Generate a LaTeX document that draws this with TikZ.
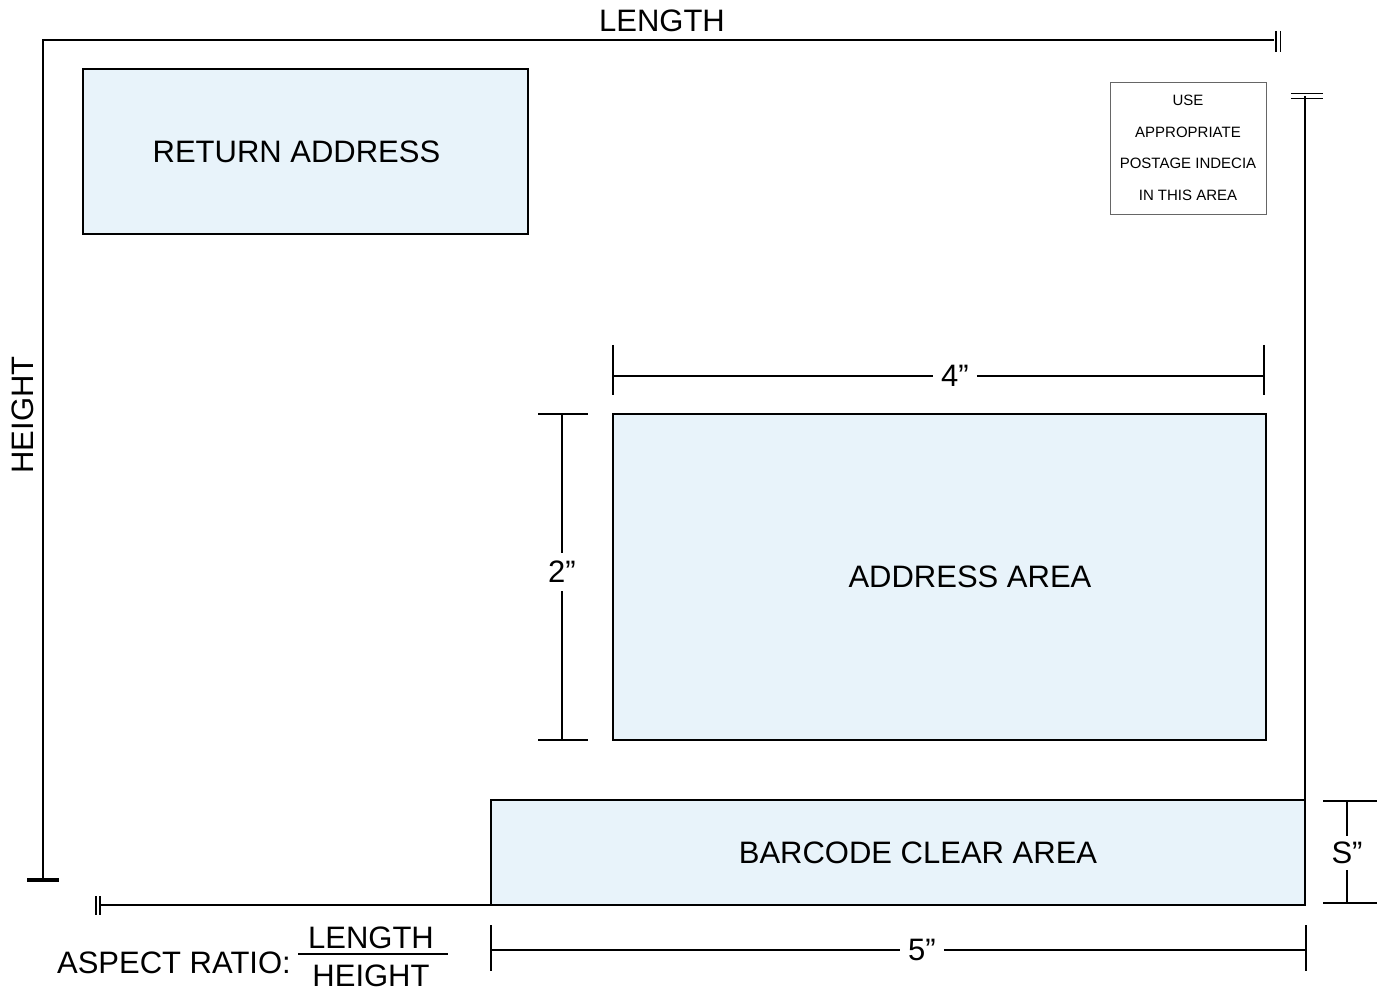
\documentclass[tikz,border=0pt]{standalone}
\usepackage{fontspec}
\setmainfont{Liberation Sans}
\usetikzlibrary{positioning,calc}
\definecolor{areablue}{HTML}{E8F3FA}
\tikzstyle{area} = [draw=black, fill=areablue, line width=1.6pt,
    inner sep=0pt, font=\fontsize{31}{34}\selectfont]
\tikzstyle{lbl} = [inner sep=0pt, font=\fontsize{31}{34}\selectfont]
\tikzstyle{dimtext} = [inner sep=8pt, font=\fontsize{31}{34}\selectfont]
\tikzset{frame/.style={line width=1.8pt}, dimline/.style={line width=1.6pt}}

\begin{document}
\begin{tikzpicture}[x=1pt,y=-1pt]
\useasboundingbox (0,0) rectangle (1377,992);
    %areas
    \node[area, minimum width=445, minimum height=165] (ret) at (305.5,151.5) {RETURN ADDRESS\hspace*{18pt}};
    \node[area, minimum width=653, minimum height=326] (addr) at (939.5,577) {\hspace*{61pt}ADDRESS AREA};
    \node[area, minimum width=814, minimum height=105] (bar) at (898,852.5) {\hspace*{40pt}BARCODE CLEAR AREA};
    \node[draw=black!60, line width=0.8pt, minimum width=156, minimum height=132, align=center,
        font=\fontsize{15}{31.5}\selectfont] (stamp) at (1188,148)
        {\rule{0pt}{3pt}USE\\APPROPRIATE\\POSTAGE INDECIA\\IN THIS AREA};
    %frame
    \coordinate (tl) at (43,40);
    \coordinate (tr) at (1274,40);
    \coordinate (bl) at (43,880);
    \draw[frame] (bl) -- (tl) -- (tr);
    \draw[line width=3.2pt] (bl) ++(-16,0) -- ++(32,0);
    \draw[line width=1.4pt] (tr) ++(2,-9) -- ++(0,21);
    \draw[line width=1.4pt] (tr) ++(6.5,-9) -- ++(0,21);
    \node[lbl] (len) at (662,21) {LENGTH};
    \node[lbl, rotate=90] (hgt) at (23,415) {HEIGHT};
    \coordinate (rt) at (1305,96);
    \draw[frame] (rt) -- (rt |- bar.south east);
    \draw[line width=1.4pt] (rt) ++(-14,-2.5) -- ++(32,0);
    \draw[line width=1.4pt] (rt) ++(-14,2.5) -- ++(32,0);
    \coordinate (bb) at (99,905);
    \draw[frame] (bb) -- (bb -| bar.south west);
    \draw[line width=1.4pt] (bb) ++(-3,-9) -- ++(0,19);
    \draw[line width=1.4pt] (bb) ++(1,-9) -- ++(0,19);
    %dimensions
    \node[dimtext] (d4) at (955,376) {4”};
    \coordinate (d4a) at (613,376);
    \coordinate (d4b) at (1264,376);
    \draw[dimline] (d4a) -- (d4.west) (d4.east) -- (d4b);
    \draw[dimline] (d4a) ++(0,-31) -- ++(0,50) (d4b) ++(0,-31) -- ++(0,50);
    \node[dimtext] (d2) at (562,572) {2”};
    \coordinate (d2a) at (562,414);
    \coordinate (d2b) at (562,740);
    \draw[dimline] (d2a) -- (d2.north) (d2.south) -- (d2b);
    \draw[dimline] (d2a) ++(-24,0) -- ++(50,0) (d2b) ++(-24,0) -- ++(50,0);
    \node[dimtext] (d5) at (922,950) {5”};
    \coordinate (d5a) at (491,950);
    \coordinate (d5b) at (1306,950);
    \draw[dimline] (d5a) -- (d5.west) (d5.east) -- (d5b);
    \draw[dimline] (d5a) ++(0,-25) -- ++(0,46) (d5b) ++(0,-25) -- ++(0,46);
    \node[dimtext, inner sep=6pt] (ds) at (1347,853) {S”};
    \coordinate (dsa) at (1347,801);
    \coordinate (dsb) at (1347,903);
    \draw[dimline] (dsa) -- (ds.north) (ds.south) -- (dsb);
    \draw[dimline] (dsa) ++(-24,0) -- ++(54,0) (dsb) ++(-24,0) -- ++(54,0);
    %aspect ratio
    \node[lbl, anchor=east] (asp) at (291,963) {ASPECT RATIO:};
    \node[lbl] (num) at (371,938) {LENGTH};
    \node[lbl] (den) at (371,976) {HEIGHT};
    \coordinate (fa) at (298,954);
    \coordinate (fb) at (448,954);
    \draw[line width=1.2pt] (fa) -- (fb);
\end{tikzpicture}
\end{document}
